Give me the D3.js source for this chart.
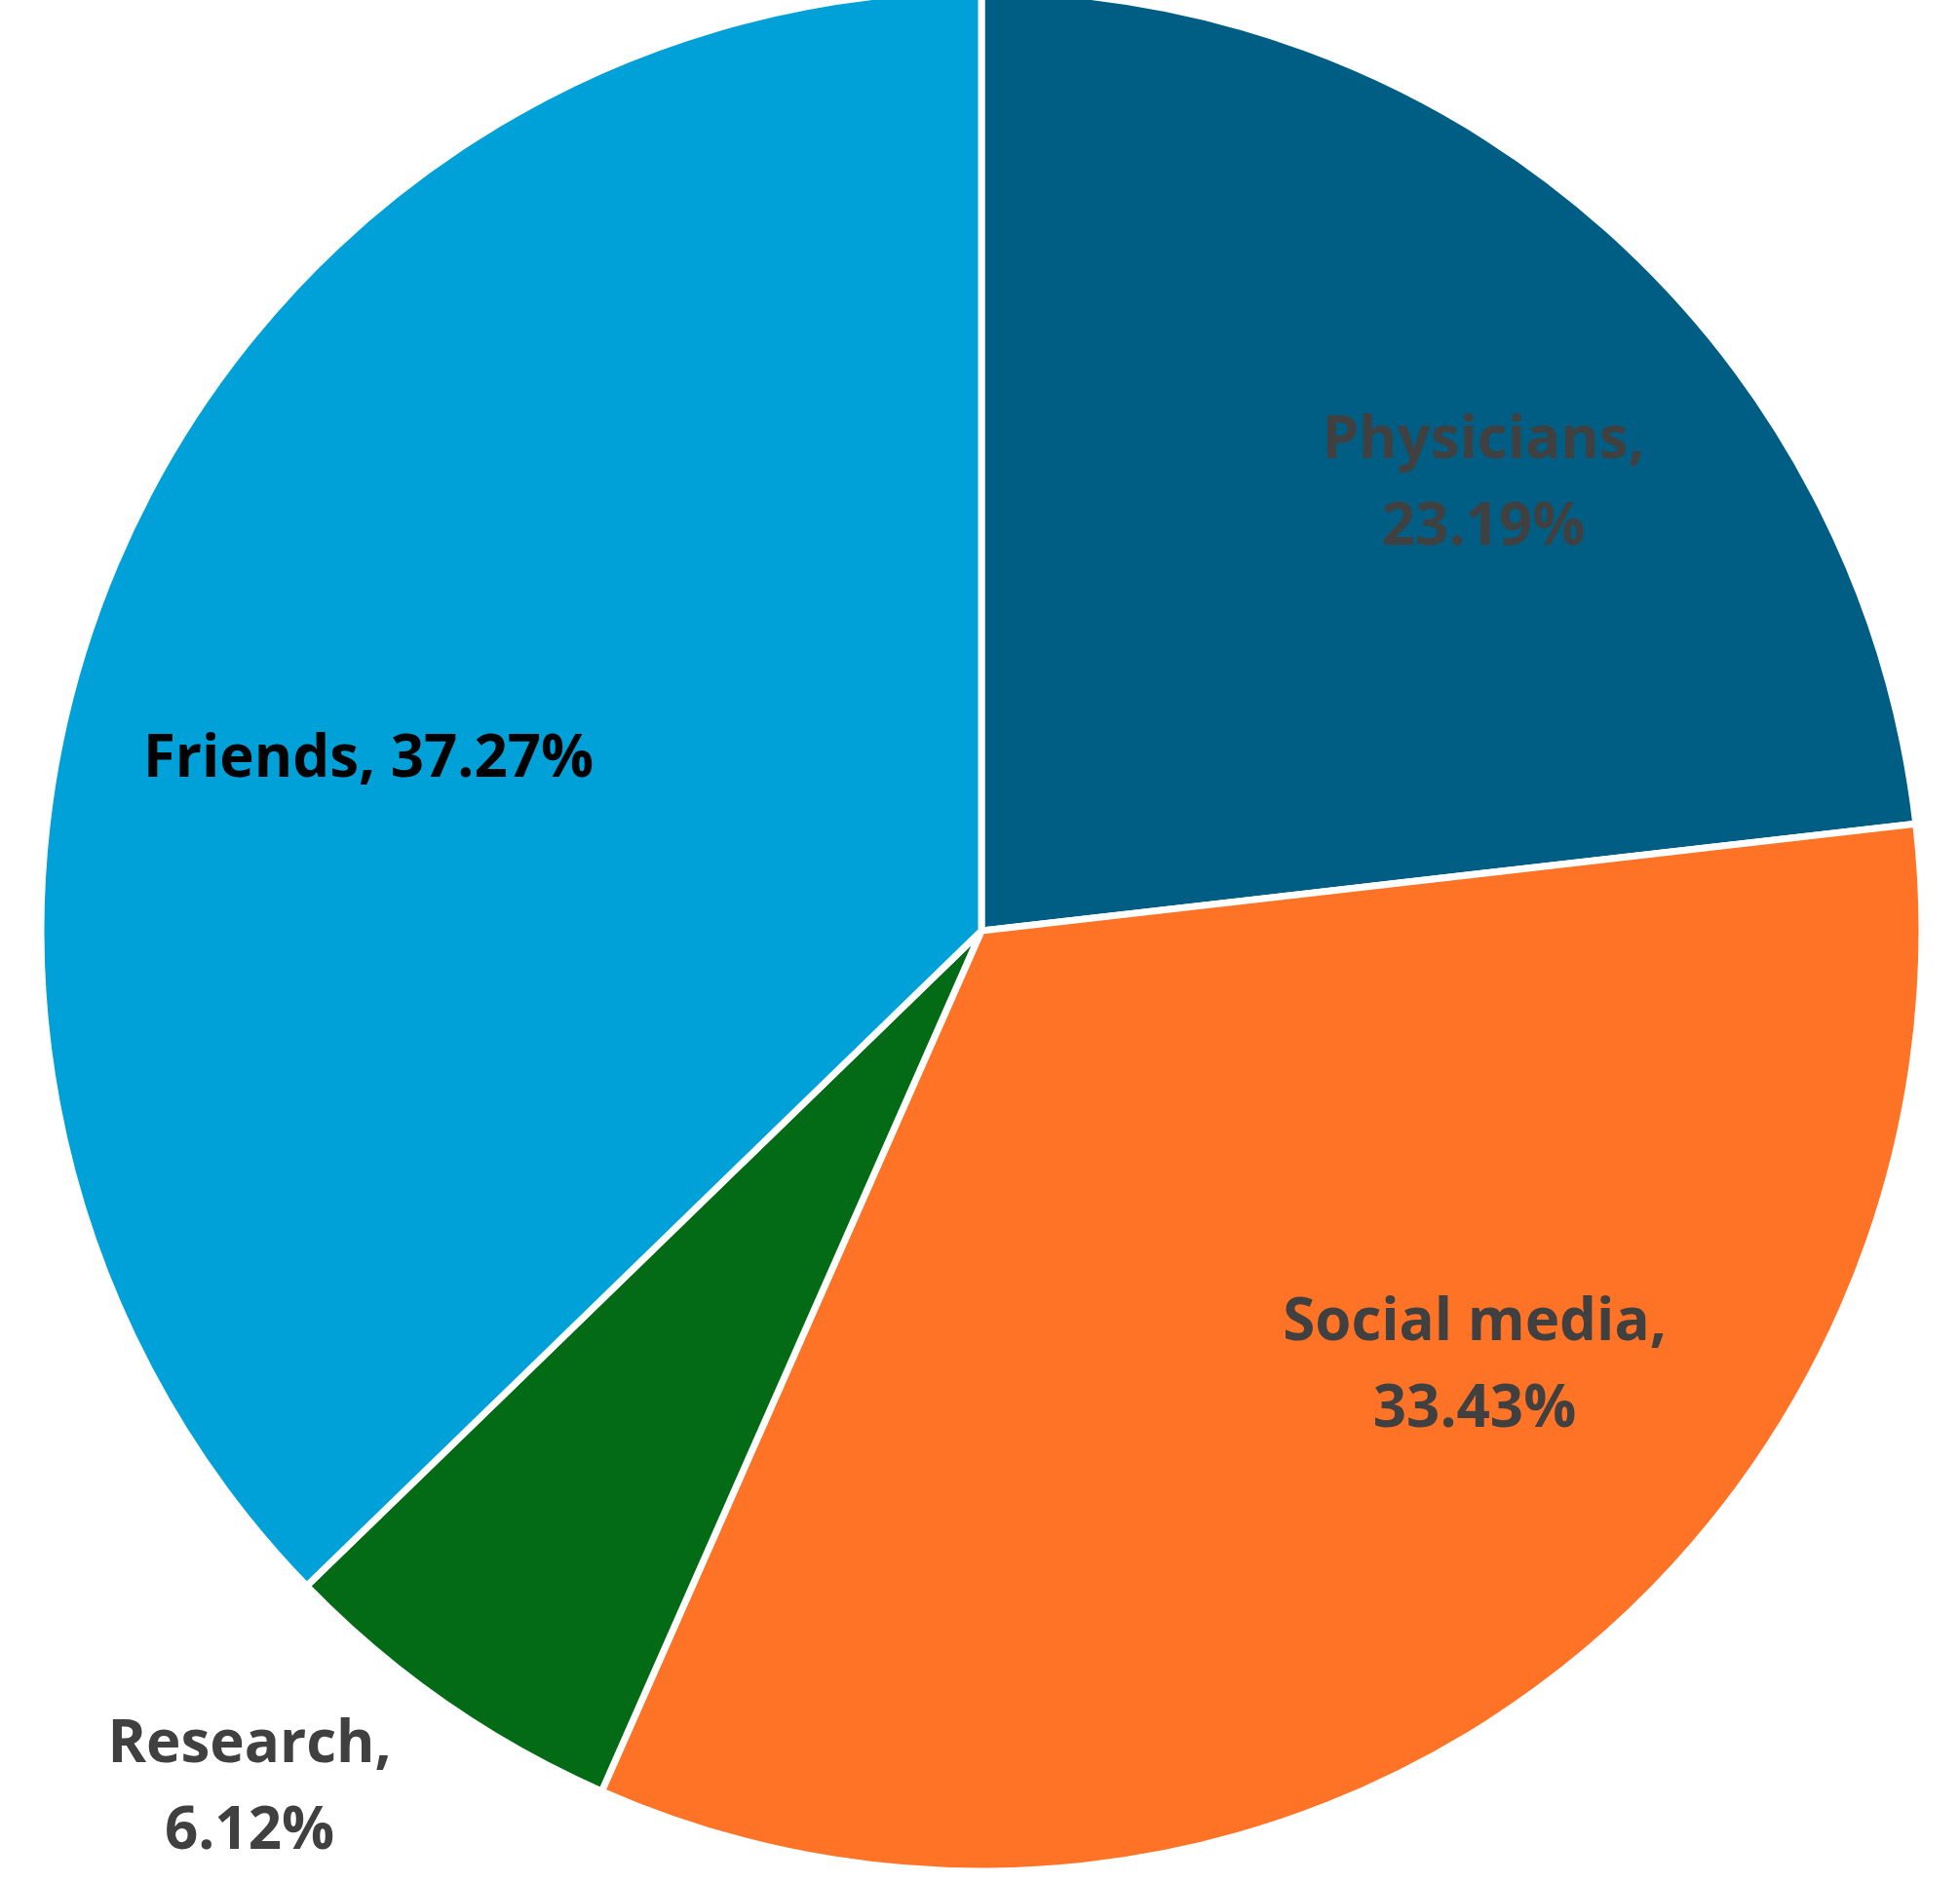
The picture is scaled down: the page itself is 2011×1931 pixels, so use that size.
<!DOCTYPE html>
<html><head><meta charset="utf-8">
<script src="https://cdn.jsdelivr.net/npm/d3@7"></script>
<style>body{margin:0;background:#fff}</style>
</head><body>
<script>
var categories = ["Physicians", "Social media", "Research", "Friends"];
var values = [23.19, 33.43, 6.12, 37.27];
var colors = ["#005E85", "#FF7326", "#036A15", "#00A1D9"];
// label lines and where they sit (page coords), plus colour
var labelLines = [["Physicians,", "23.19%"], ["Social media,", "33.43%"], ["Research,", "6.12%"], ["Friends, 37.27%"]];
var labelPos = [[1522, 470], [1513, 1375], [256, 1808], [378, 797]];
var labelColor = ["#404040", "#404040", "#404040", "#000"];

var W = 2011, H = 1931, cx = 1007, cy = 955, R = 965;
var svg = d3.select("body").append("svg").attr("width", W).attr("height", H);
var g = svg.append("g").attr("transform", "translate(" + cx + "," + cy + ")");

var pie = d3.pie().sort(null).value(function(d){return d;});
var arc = d3.arc().innerRadius(0).outerRadius(R);

g.selectAll("path").data(pie(values)).enter().append("path")
  .attr("d", arc)
  .attr("fill", function(d,i){return colors[i];})
  .attr("stroke", "#fff").attr("stroke-width", 7).attr("stroke-linejoin", "round");

var t = svg.selectAll("text.lbl").data(labelLines).enter().append("text")
  .attr("class", "lbl")
  .attr("x", function(d,i){return labelPos[i][0];})
  .attr("y", function(d,i){return labelPos[i][1];})
  .attr("text-anchor", "middle")
  .attr("fill", function(d,i){return labelColor[i];})
  .style("font-family", "'Open Sans', sans-serif")
  .style("font-weight", "700")
  .style("font-size", "60px");
t.each(function(d,i){
  var el = d3.select(this);
  d.forEach(function(line, j){
    el.append("tspan").attr("x", labelPos[i][0]).attr("dy", j ? 89 : 0).text(line);
  });
});
</script>
</body></html>
